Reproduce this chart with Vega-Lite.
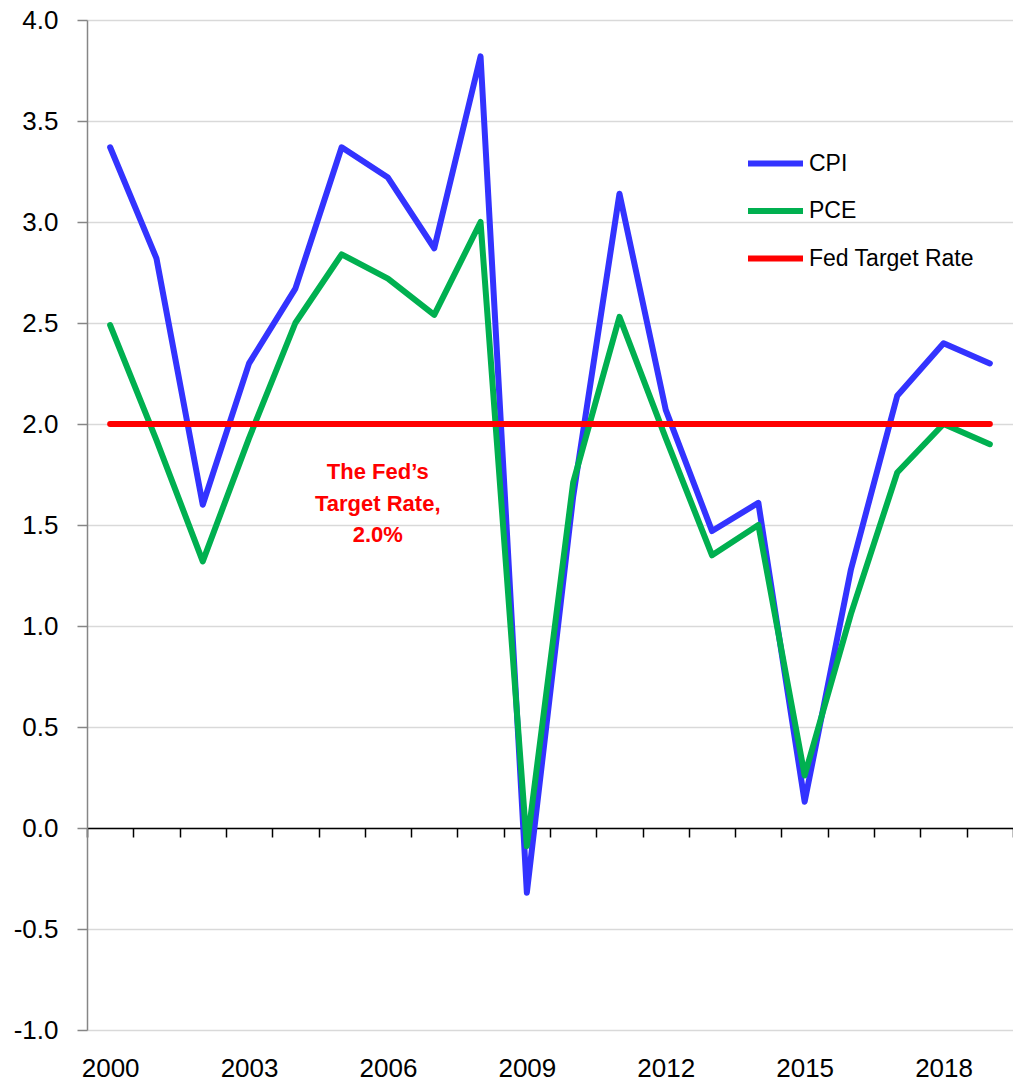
{
  "$schema": "https://vega.github.io/schema/vega-lite/v6.json",
  "width": 926,
  "height": 1010,
  "autosize": {"type": "none"},
  "padding": {"left": 87, "top": 20, "right": 0, "bottom": 53},
  "background": "white",
  "config": {
    "view": {"stroke": null},
    "font": "Liberation Sans, Arial, sans-serif"
  },
  "datasets": {
    "series": [
      {"year": "2000", "series": "CPI", "value": 3.37},
      {"year": "2001", "series": "CPI", "value": 2.82},
      {"year": "2002", "series": "CPI", "value": 1.6},
      {"year": "2003", "series": "CPI", "value": 2.3},
      {"year": "2004", "series": "CPI", "value": 2.67},
      {"year": "2005", "series": "CPI", "value": 3.37},
      {"year": "2006", "series": "CPI", "value": 3.22},
      {"year": "2007", "series": "CPI", "value": 2.87},
      {"year": "2008", "series": "CPI", "value": 3.82},
      {"year": "2009", "series": "CPI", "value": -0.32},
      {"year": "2010", "series": "CPI", "value": 1.64},
      {"year": "2011", "series": "CPI", "value": 3.14},
      {"year": "2012", "series": "CPI", "value": 2.07},
      {"year": "2013", "series": "CPI", "value": 1.47},
      {"year": "2014", "series": "CPI", "value": 1.61},
      {"year": "2015", "series": "CPI", "value": 0.13},
      {"year": "2016", "series": "CPI", "value": 1.28},
      {"year": "2017", "series": "CPI", "value": 2.14},
      {"year": "2018", "series": "CPI", "value": 2.4},
      {"year": "2019", "series": "CPI", "value": 2.3},
      {"year": "2000", "series": "PCE", "value": 2.49},
      {"year": "2001", "series": "PCE", "value": 1.92},
      {"year": "2002", "series": "PCE", "value": 1.32},
      {"year": "2003", "series": "PCE", "value": 1.93},
      {"year": "2004", "series": "PCE", "value": 2.5},
      {"year": "2005", "series": "PCE", "value": 2.84},
      {"year": "2006", "series": "PCE", "value": 2.72},
      {"year": "2007", "series": "PCE", "value": 2.54},
      {"year": "2008", "series": "PCE", "value": 3.0},
      {"year": "2009", "series": "PCE", "value": -0.09},
      {"year": "2010", "series": "PCE", "value": 1.71},
      {"year": "2011", "series": "PCE", "value": 2.53},
      {"year": "2012", "series": "PCE", "value": 1.93},
      {"year": "2013", "series": "PCE", "value": 1.35},
      {"year": "2014", "series": "PCE", "value": 1.5},
      {"year": "2015", "series": "PCE", "value": 0.26},
      {"year": "2016", "series": "PCE", "value": 1.06},
      {"year": "2017", "series": "PCE", "value": 1.76},
      {"year": "2018", "series": "PCE", "value": 2.0},
      {"year": "2019", "series": "PCE", "value": 1.9},
      {"year": "2000", "series": "Fed Target Rate", "value": 2.0},
      {"year": "2001", "series": "Fed Target Rate", "value": 2.0},
      {"year": "2002", "series": "Fed Target Rate", "value": 2.0},
      {"year": "2003", "series": "Fed Target Rate", "value": 2.0},
      {"year": "2004", "series": "Fed Target Rate", "value": 2.0},
      {"year": "2005", "series": "Fed Target Rate", "value": 2.0},
      {"year": "2006", "series": "Fed Target Rate", "value": 2.0},
      {"year": "2007", "series": "Fed Target Rate", "value": 2.0},
      {"year": "2008", "series": "Fed Target Rate", "value": 2.0},
      {"year": "2009", "series": "Fed Target Rate", "value": 2.0},
      {"year": "2010", "series": "Fed Target Rate", "value": 2.0},
      {"year": "2011", "series": "Fed Target Rate", "value": 2.0},
      {"year": "2012", "series": "Fed Target Rate", "value": 2.0},
      {"year": "2013", "series": "Fed Target Rate", "value": 2.0},
      {"year": "2014", "series": "Fed Target Rate", "value": 2.0},
      {"year": "2015", "series": "Fed Target Rate", "value": 2.0},
      {"year": "2016", "series": "Fed Target Rate", "value": 2.0},
      {"year": "2017", "series": "Fed Target Rate", "value": 2.0},
      {"year": "2018", "series": "Fed Target Rate", "value": 2.0},
      {"year": "2019", "series": "Fed Target Rate", "value": 2.0}
    ],
    "note": [
      {"year": "2006", "value": 1.76, "label": ["The Fed’s", "Target Rate,", "2.0%"]}
    ]
  },
  "layer": [
    {
      "data": {"name": "series"},
      "mark": {"type": "line", "strokeWidth": 6, "strokeCap": "round", "strokeJoin": "round"},
      "encoding": {
        "x": {
          "field": "year",
          "type": "ordinal",
          "scale": {"type": "band", "paddingInner": 0, "paddingOuter": 0},
          "axis": {
            "title": null,
            "orient": "bottom",
            "offset": -202,
            "grid": false,
            "domainColor": "#000000",
            "domainWidth": 1.5,
            "tickBand": "extent",
            "tickColor": "#000000",
            "tickSize": 9,
            "tickWidth": 1.5,
            "labelExpr": "indexof(['2000','2003','2006','2009','2012','2015','2018'], datum.value) >= 0 ? datum.value : ''",
            "labelFontSize": 26,
            "labelColor": "#000000",
            "labelPadding": 218,
            "labelAngle": 0,
            "labelOverlap": false
          }
        },
        "y": {
          "field": "value",
          "type": "quantitative",
          "scale": {"domain": [-1, 4], "nice": false, "zero": false},
          "axis": {
            "title": null,
            "values": [-1, -0.5, 0, 0.5, 1, 1.5, 2, 2.5, 3, 3.5, 4],
            "labelExpr": "datum.value < 0 ? '-' + format(-datum.value, '.1f') : format(datum.value, '.1f')",
            "grid": true,
            "gridColor": "#d9d9d9",
            "gridWidth": 1.5,
            "domainColor": "#868686",
            "domainWidth": 1.5,
            "tickColor": "#868686",
            "tickSize": 10,
            "tickWidth": 1.5,
            "labelFontSize": 26,
            "labelColor": "#000000",
            "labelPadding": 19
          }
        },
        "color": {
          "field": "series",
          "type": "nominal",
          "scale": {"domain": ["CPI", "PCE", "Fed Target Rate"], "range": ["#3333FF", "#00B050", "#FF0000"]},
          "legend": {
            "title": null,
            "orient": "none",
            "legendX": 658,
            "legendY": 113,
            "symbolType": "stroke",
            "symbolSize": 3025,
            "symbolStrokeWidth": 6,
            "labelFontSize": 23,
            "labelColor": "#000000",
            "labelOffset": 3,
            "labelLimit": 400,
            "rowPadding": 4.5,
            "padding": 0
          }
        }
      }
    },
    {
      "data": {"name": "note"},
      "mark": {"type": "text", "color": "#FF0000", "fontWeight": "bold", "fontSize": 22, "lineHeight": 31.5, "align": "center", "baseline": "middle"},
      "encoding": {
        "x": {"field": "year", "type": "ordinal", "bandPosition": 0.28},
        "y": {"field": "value", "type": "quantitative"},
        "text": {"field": "label", "type": "nominal"}
      }
    }
  ]
}
